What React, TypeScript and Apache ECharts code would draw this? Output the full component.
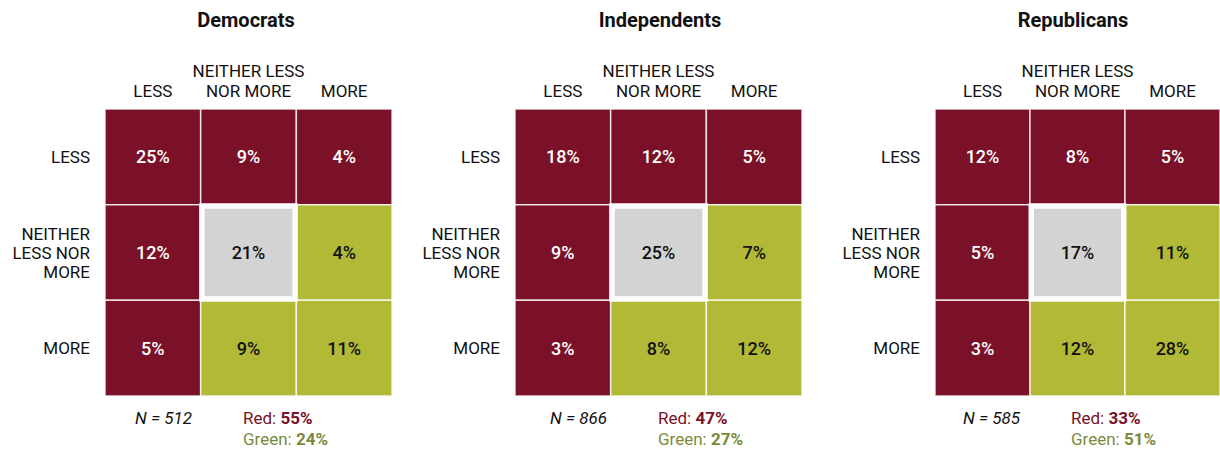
import React, { useEffect, useRef } from "react";
import * as echarts from "echarts";

const panelTitles = ["Democrats", "Independents", "Republicans"];
const colLabels = ["LESS", "NEITHER LESS\nNOR MORE", "MORE"];
const rowLabels = ["LESS", "NEITHER\nLESS NOR\nMORE", "MORE"];

// rows: LESS, NEITHER, MORE ; columns: LESS, NEITHER, MORE
const democrats = [
  [25, 9, 4],
  [12, 21, 4],
  [5, 9, 11],
];
const independents = [
  [18, 12, 5],
  [9, 25, 7],
  [3, 8, 12],
];
const republicans = [
  [12, 8, 5],
  [5, 17, 11],
  [3, 12, 28],
];
const panelValues = [democrats, independents, republicans];

const cellGroups = [
  ["red", "red", "red"],
  ["red", "neutral", "green"],
  ["red", "green", "green"],
];

const sampleSizes = [512, 866, 585];
const redTotals = [55, 47, 33];
const greenTotals = [24, 27, 51];

const RED = "#7a1128";
const GREEN = "#b1b937";
const GRAY = "#d3d3d3";
const RED_TEXT = "#7a1128";
const GREEN_TEXT = "#7c8a3c";
const FONT = "Roboto, 'Noto Sans', sans-serif";

const gridLefts = [105, 515, 935];
const gridTop = 109;
const gridSize = 287;
const titleX = [246, 660, 1073];
const nX = [135, 550, 963];
const redX = [243, 658, 1071];

export default function App() {
  const ref = useRef<HTMLDivElement>(null);
  useEffect(() => {
    if (!ref.current) return;
    const chart = echarts.init(ref.current, undefined, { renderer: "svg" });

    const grids: any[] = [];
    const xAxes: any[] = [];
    const yAxes: any[] = [];
    const series: any[] = [];
    const graphics: any[] = [];

    panelValues.forEach((vals, p) => {
      grids.push({ left: gridLefts[p], top: gridTop, width: gridSize, height: gridSize });
      xAxes.push({
        type: "category",
        gridIndex: p,
        position: "top",
        data: colLabels,
        axisLine: { show: false },
        axisTick: { show: false },
        splitLine: { show: false },
        axisLabel: {
          interval: 0,
          margin: 8,
          color: "#111",
          fontFamily: FONT,
          fontSize: 17,
          lineHeight: 20,
        },
      });
      yAxes.push({
        type: "category",
        gridIndex: p,
        inverse: true,
        data: rowLabels,
        axisLine: { show: false },
        axisTick: { show: false },
        splitLine: { show: false },
        axisLabel: {
          interval: 0,
          margin: 15,
          color: "#111",
          fontFamily: FONT,
          fontSize: 17,
          lineHeight: 19,
          align: "right",
        },
      });
      const data: any[] = [];
      vals.forEach((row, r) => {
        row.forEach((v, c) => {
          data.push([c, r, v]);
        });
      });
      series.push({
        type: "custom",
        coordinateSystem: "cartesian2d",
        xAxisIndex: p,
        yAxisIndex: p,
        encode: { x: 0, y: 1 },
        data,
        renderItem: (params: any, api: any) => {
          const cx = api.value(0);
          const cy = api.value(1);
          const v = api.value(2);
          const pt = api.coord([cx, cy]);
          const sz = api.size([1, 1]);
          const w = sz[0];
          const h = sz[1];
          const x0 = pt[0] - w / 2;
          const y0 = pt[1] - h / 2;
          const grp = cellGroups[cy][cx];
          const children: any[] = [];
          if (grp === "neutral") {
            children.push({
              type: "rect",
              z2: 10,
              shape: { x: x0 - 1.5, y: y0 - 1.5, width: w + 3, height: h + 3 },
              style: { fill: "#ffffff" },
            });
            children.push({
              type: "rect",
              z2: 11,
              shape: { x: x0 + 4, y: y0 + 4, width: w - 8, height: h - 8 },
              style: { fill: GRAY },
            });
          } else {
            children.push({
              type: "rect",
              z2: 1,
              shape: { x: x0, y: y0, width: w, height: h },
              style: {
                fill: grp === "red" ? RED : GREEN,
                stroke: "rgba(255,255,255,0.8)",
                lineWidth: 1.5,
              },
            });
          }
          children.push({
            type: "text",
            z2: 20,
            style: {
              text: v + "%",
              x: pt[0],
              y: pt[1],
              align: "center",
              verticalAlign: "middle",
              fill: grp === "red" ? "#ffffff" : "#111111",
              font: `500 18px ${FONT}`,
            },
          });
          return { type: "group", children };
        },
      });
      graphics.push({
        type: "text",
        x: titleX[p],
        y: 20,
        style: {
          text: panelTitles[p],
          align: "center",
          verticalAlign: "middle",
          font: `bold 20px ${FONT}`,
          fill: "#111",
        },
      });
      graphics.push({
        type: "text",
        left: nX[p],
        top: 409,
        style: {
          text: "N = " + sampleSizes[p],
          font: `italic 17px ${FONT}`,
          fill: "#111",
        },
      });
      graphics.push({
        type: "text",
        left: redX[p],
        top: 409,
        style: {
          text: "{a|Red: }{b|" + redTotals[p] + "%}",
          rich: {
            a: { fill: RED_TEXT, fontSize: 17, fontFamily: FONT },
            b: { fill: RED_TEXT, fontSize: 17, fontFamily: FONT, fontWeight: "bold" },
          },
        },
      });
      graphics.push({
        type: "text",
        left: redX[p],
        top: 430,
        style: {
          text: "{a|Green: }{b|" + greenTotals[p] + "%}",
          rich: {
            a: { fill: GREEN_TEXT, fontSize: 17, fontFamily: FONT },
            b: { fill: GREEN_TEXT, fontSize: 17, fontFamily: FONT, fontWeight: "bold" },
          },
        },
      });
    });

    chart.setOption({
      animation: false,
      backgroundColor: "#ffffff",
      grid: grids,
      xAxis: xAxes,
      yAxis: yAxes,
      series,
      graphic: graphics,
    });
    return () => chart.dispose();
  }, []);
  return (
    <div
      ref={ref}
      style={{ position: "fixed", left: 0, top: 0, width: 1220, height: 451 }}
    />
  );
}
